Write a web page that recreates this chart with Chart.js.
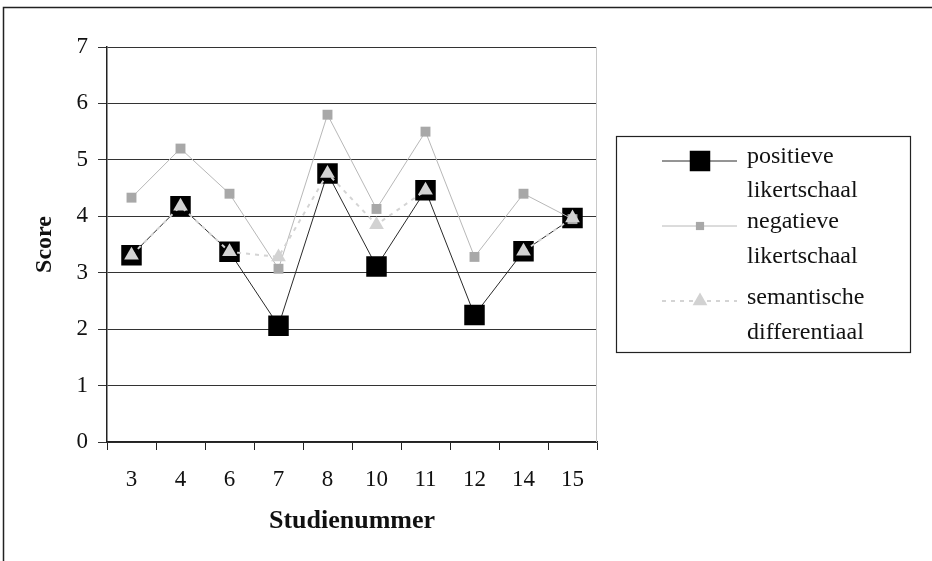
<!DOCTYPE html>
<html>
<head>
<meta charset="utf-8">
<script src="https://cdn.jsdelivr.net/npm/chart.js@4"></script>
<style>
  html, body { margin: 0; padding: 0; background: #fff; }
  #wrap { width: 932px; height: 561px; position: relative; }
</style>
</head>
<body>
<div id="wrap"><canvas id="c" width="932" height="561"></canvas></div>
<script>
const categories = ['3', '4', '6', '7', '8', '10', '11', '12', '14', '15'];
const positieve = [3.31, 4.18, 3.37, 2.06, 4.76, 3.11, 4.46, 2.25, 3.38, 3.97];
const negatieve = [4.33, 5.20, 4.40, 3.07, 5.80, 4.13, 5.50, 3.28, 4.40, 3.95];
const semantische = [3.31, 4.18, 3.37, 3.28, 4.76, 3.85, 4.46, null, 3.38, 3.97];
const seriesLabels = [['positieve', 'likertschaal'], ['negatieve', 'likertschaal'], ['semantische', 'differentiaal']];
const yMin = 0, yMax = 7, yStep = 1;
const xTitle = 'Studienummer';
const yTitle = 'Score';

const FONT = "'Liberation Serif', 'Times New Roman', serif";

const framePlugin = {
  id: 'frame',
  beforeDraw(chart) {
    const ctx = chart.ctx;
    ctx.save();
    ctx.fillStyle = '#fff';
    ctx.fillRect(0, 0, chart.width, chart.height);
    ctx.strokeStyle = '#222';
    ctx.lineWidth = 1.5;
    ctx.beginPath();
    ctx.moveTo(3.5, chart.height);
    ctx.lineTo(3.5, 7.5);
    ctx.lineTo(chart.width, 7.5);
    ctx.stroke();
    ctx.restore();
  },
  afterDatasetsDraw(chart) {
    const ctx = chart.ctx;
    const a = chart.chartArea;
    ctx.save();
    ctx.strokeStyle = '#c8c8c8';
    ctx.lineWidth = 1;
    ctx.beginPath();
    ctx.moveTo(a.right - 0.5, a.top);
    ctx.lineTo(a.right - 0.5, a.bottom);
    ctx.stroke();
    ctx.restore();
  }
};

function drawMarker(ctx, style, x, y, r, color) {
  ctx.fillStyle = color;
  ctx.beginPath();
  if (style === 'rect') {
    const s = Math.SQRT1_2 * r;
    ctx.rect(x - s, y - s, 2 * s, 2 * s);
  } else if (style === 'triangle') {
    const h = Math.sqrt(3) / 2 * r;
    ctx.moveTo(x, y - r);
    ctx.lineTo(x + h, y + r / 2);
    ctx.lineTo(x - h, y + r / 2);
    ctx.closePath();
  }
  ctx.fill();
}

const legendPlugin = {
  id: 'customLegend',
  afterDraw(chart) {
    const ctx = chart.ctx;
    ctx.save();
    const bx = 616.5, by = 136.5, bw = 294, bh = 216;
    ctx.fillStyle = '#fff';
    ctx.fillRect(bx, by, bw, bh);
    ctx.strokeStyle = '#222';
    ctx.lineWidth = 1.2;
    ctx.strokeRect(bx, by, bw, bh);
    const sampleY = [161, 226, 301];
    const textY = [[157, 191], [222, 257], [298, 333]];
    const legendR = [14.5, 5.8, 8.5];
    chart.data.datasets.forEach((ds, i) => {
      const y = sampleY[i];
      ctx.strokeStyle = ds.borderColor;
      ctx.lineWidth = ds.borderWidth;
      ctx.setLineDash(ds.borderDash || []);
      ctx.beginPath();
      ctx.moveTo(662, y);
      ctx.lineTo(737, y);
      ctx.stroke();
      ctx.setLineDash([]);
      drawMarker(ctx, ds.pointStyle, 700, y, legendR[i], ds.pointBackgroundColor);
      ctx.fillStyle = '#111';
      ctx.font = '24px ' + FONT;
      ctx.textBaseline = 'middle';
      ctx.textAlign = 'left';
      seriesLabels[i].forEach((t, j) => ctx.fillText(t, 747, textY[i][j]));
    });
    ctx.restore();
  }
};

new Chart(document.getElementById('c'), {
  type: 'line',
  data: {
    labels: categories,
    datasets: [
      {
        label: seriesLabels[0].join(' '),
        data: positieve,
        borderColor: '#2a2a2a',
        borderWidth: 1,
        pointStyle: 'rect',
        pointRadius: 14.5,
        pointBackgroundColor: '#000000',
        pointBorderWidth: 0,
        pointBorderColor: '#000000',
        order: 2,
        tension: 0
      },
      {
        label: seriesLabels[1].join(' '),
        data: negatieve,
        borderColor: '#b8b8b8',
        borderWidth: 1,
        pointStyle: 'rect',
        pointRadius: 7,
        pointBackgroundColor: '#a8a8a8',
        pointBorderWidth: 0,
        pointBorderColor: '#a8a8a8',
        order: 1,
        tension: 0
      },
      {
        label: seriesLabels[2].join(' '),
        data: semantische,
        borderColor: '#d4d4d4',
        borderWidth: 2,
        borderDash: [4, 5],
        pointStyle: 'triangle',
        pointRadius: 8.5,
        pointBackgroundColor: '#d2d2d2',
        pointBorderWidth: 0,
        pointBorderColor: '#d2d2d2',
        spanGaps: false,
        order: 0,
        tension: 0
      }
    ]
  },
  options: {
    responsive: false,
    animation: false,
    events: [],
    layout: { padding: { left: 30, top: 47, right: 335, bottom: 24 } },
    plugins: {
      legend: { display: false },
      tooltip: { enabled: false },
      title: { display: false }
    },
    scales: {
      x: {
        type: 'category',
        offset: true,
        afterFit(scale) { scale.height = 95; },
        grid: {
          offset: true,
          drawOnChartArea: false,
          drawTicks: true,
          tickLength: 8,
          color: '#222',
          lineWidth: 1
        },
        border: { display: true, color: '#222', width: 1.5 },
        ticks: {
          color: '#111',
          font: { family: FONT, size: 23 },
          padding: 16,
          maxRotation: 0,
          autoSkip: false
        },
        title: {
          display: true,
          text: xTitle,
          color: '#111',
          font: { family: FONT, size: 26, weight: 'bold' },
          padding: { top: 0, bottom: 0 }
        }
      },
      y: {
        min: yMin,
        max: yMax,
        afterFit(scale) { scale.width = 77; },
        grid: {
          drawOnChartArea: true,
          drawTicks: true,
          tickLength: 9,
          color: '#333',
          lineWidth: 1
        },
        border: { display: true, color: '#222', width: 1.5 },
        ticks: {
          stepSize: yStep,
          color: '#111',
          font: { family: FONT, size: 23 },
          padding: 10
        },
        title: {
          display: true,
          text: yTitle,
          color: '#111',
          font: { family: FONT, size: 24, weight: 'bold' },
          padding: { top: 0, bottom: 0 }
        }
      }
    }
  },
  plugins: [framePlugin, legendPlugin]
});
</script>
</body>
</html>
